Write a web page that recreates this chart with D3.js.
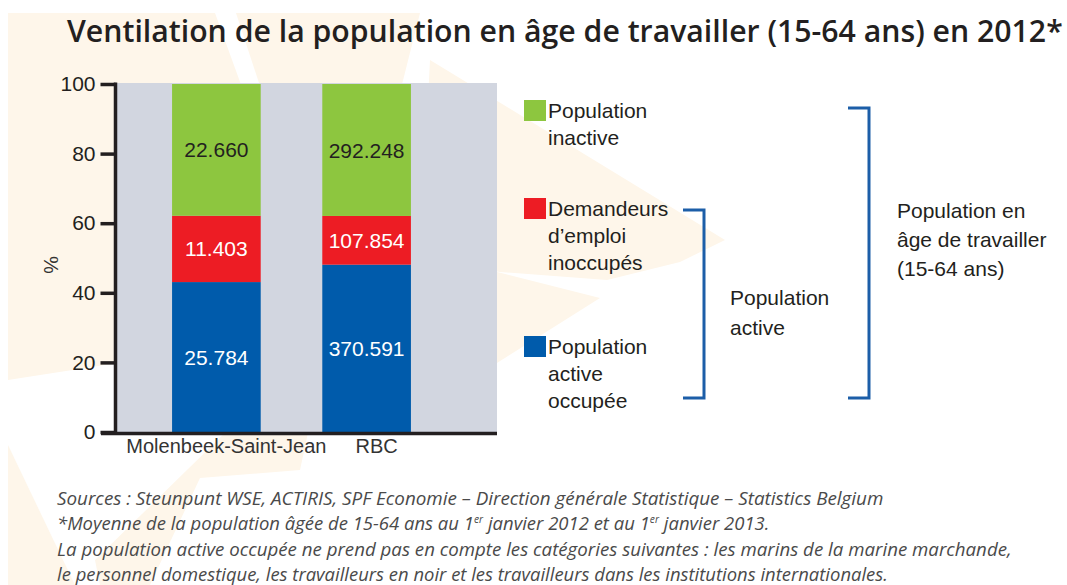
<!DOCTYPE html>
<html>
<head>
<meta charset="utf-8">
<script src="https://cdn.jsdelivr.net/npm/d3@7"></script>
<style>
  body { margin: 0; background: #fff; }
  svg { display: block; font-family: "Liberation Sans", Arial, sans-serif; }
</style>
</head>
<body>
<svg id="chart"></svg>
<script>
// ---- data ----
const categories = ['Molenbeek-Saint-Jean', 'RBC'];
const occupied = [25784, 370591];     // Population active occupée
const jobseekers = [11403, 107854];   // Demandeurs d'emploi inoccupés
const inactive = [22660, 292248];     // Population inactive
const seriesKeys = ['occupied', 'jobseekers', 'inactive'];
const seriesColors = ['#005bab', '#ed1c24', '#8dc63f'];
const labelColors = ['#ffffff', '#ffffff', '#231f20'];
const yTicks = [0, 20, 40, 60, 80, 100];

const legendLines = [
  ['Population', 'inactive'],
  ['Demandeurs', 'd\u2019emploi', 'inoccupés'],
  ['Population', 'active', 'occupée']
];
const legendColors = ['#8dc63f', '#ed1c24', '#005bab'];

const title = 'Ventilation de la population en âge de travailler (15-64 ans) en 2012*';
const footer = [
  'Sources : Steunpunt WSE, ACTIRIS, SPF Economie \u2013 Direction générale Statistique \u2013 Statistics Belgium',
  null, // line with superscripts, built below
  'La population active occupée ne prend pas en compte les catégories suivantes : les marins de la marine marchande,',
  'le personnel domestique, les travailleurs en noir et les travailleurs dans les institutions internationales.'
];

const width = 1067, height = 585;
const fmt = d3.formatLocale({decimal: ',', thousands: '.', grouping: [3]}).format(',');

const svg = d3.select('#chart').attr('width', width).attr('height', height);

// faint beige watermark shapes in the background
const beige = '#fef6ea';
const wm = svg.append('g');
[
  [[8, 13], [215, 13], [330, 330], [8, 380]],
  [[236, 13], [420, 13], [340, 330]],
  [[8, 445], [8, 585], [75, 585]],
  [[95, 560], [330, 330], [300, 470], [200, 478], [150, 585], [100, 585]],
  [[430, 60], [725, 240], [680, 262], [607, 280], [500, 272], [420, 260]],
  [[470, 265], [600, 298], [470, 380]]
].forEach(pts => wm.append('polygon').attr('points', pts.join(' ')).attr('fill', beige));

// ---- chart ----
const plot = {left: 117, right: 497, top: 84, bottom: 432};

const x = d3.scaleBand()
  .domain(categories)
  .range([127, 456])
  .paddingInner(0.41)
  .paddingOuter(0.3);

const y = d3.scaleLinear()
  .domain([0, 100])
  .range([plot.bottom, plot.top]);

const rows = categories.map((c, i) => {
  const total = occupied[i] + jobseekers[i] + inactive[i];
  return {
    cat: c,
    occupied: occupied[i] / total * 100,
    jobseekers: jobseekers[i] / total * 100,
    inactive: inactive[i] / total * 100,
    raw: {occupied: occupied[i], jobseekers: jobseekers[i], inactive: inactive[i]}
  };
});
const stacked = d3.stack().keys(seriesKeys)(rows);

// grey plot background
svg.append('rect')
  .attr('x', plot.left).attr('y', plot.top - 1)
  .attr('width', plot.right - plot.left).attr('height', plot.bottom - plot.top + 1)
  .attr('fill', '#d2d6e0');

const layers = svg.append('g').selectAll('g')
  .data(stacked)
  .join('g')
  .attr('fill', (_, i) => seriesColors[i]);

layers.selectAll('rect')
  .data(d => d)
  .join('rect')
  .attr('x', d => x(d.data.cat))
  .attr('width', x.bandwidth())
  .attr('y', d => y(d[1]))
  .attr('height', d => y(d[0]) - y(d[1]));

layers.each(function(layer, li) {
  d3.select(this).selectAll('text')
    .data(layer)
    .join('text')
    .attr('x', d => x(d.data.cat) + x.bandwidth() / 2)
    .attr('y', d => (y(d[0]) + y(d[1])) / 2)
    .attr('dy', '0.36em')
    .attr('text-anchor', 'middle')
    .attr('font-size', 21)
    .attr('fill', labelColors[li])
    .text(d => fmt(d.data.raw[layer.key]));
});

// y axis
const yAxis = svg.append('g')
  .attr('transform', `translate(${plot.left - 1.5},0)`)
  .call(d3.axisLeft(y).tickValues(yTicks).tickSize(15).tickPadding(5).tickSizeOuter(0));
yAxis.attr('font-family', null);
yAxis.select('.domain').remove();
yAxis.selectAll('.tick line').attr('stroke', '#231f20').attr('stroke-width', 3.5);
yAxis.selectAll('.tick text')
  .attr('font-size', 21).attr('fill', '#231f20');
svg.append('line')
  .attr('x1', plot.left - 1.5).attr('x2', plot.left - 1.5)
  .attr('y1', plot.top - 1.5).attr('y2', plot.bottom)
  .attr('stroke', '#231f20').attr('stroke-width', 3.5);

// x axis
svg.append('line')
  .attr('x1', 101).attr('x2', plot.right)
  .attr('y1', plot.bottom + 1.5).attr('y2', plot.bottom + 1.5)
  .attr('stroke', '#231f20').attr('stroke-width', 3.5);
svg.append('g').selectAll('text')
  .data(categories)
  .join('text')
  .attr('x', d => x(d) + x.bandwidth() / 2 + 10)
  .attr('y', 453)
  .attr('text-anchor', 'middle')
  .attr('font-size', 20)
  .attr('fill', '#333')
  .text(d => d);

svg.append('text')
  .attr('transform', 'translate(44,265) rotate(90)')
  .attr('text-anchor', 'middle')
  .attr('font-size', 20)
  .attr('fill', '#333')
  .text('%');

// ---- legend ----
const legendX = 524, legendTops = [100, 198, 336], lineH = 27;
const legend = svg.append('g');
legendLines.forEach((lines, i) => {
  legend.append('rect')
    .attr('x', legendX).attr('y', legendTops[i])
    .attr('width', 22).attr('height', 21)
    .attr('fill', legendColors[i]);
  const t = legend.append('text')
    .attr('font-size', 21).attr('fill', '#231f20');
  lines.forEach((l, j) => {
    t.append('tspan')
      .attr('x', legendX + 24)
      .attr('y', legendTops[i] + 18 + j * lineH)
      .text(l);
  });
});

// brackets
const bracketColor = '#1c5ea8';
const bracket = (x0, x1, y0, y1) => svg.append('path')
  .attr('d', `M${x0},${y0}H${x1}V${y1}H${x0}`)
  .attr('fill', 'none').attr('stroke', bracketColor).attr('stroke-width', 3);
bracket(683, 704, legendTops[1] + 12, legendTops[2] + 62);
bracket(848, 869, legendTops[0] + 8, legendTops[2] + 62);

const multi = (lines, x0, y0, lh) => {
  const t = svg.append('text').attr('font-size', 21).attr('fill', '#231f20');
  lines.forEach((l, j) => t.append('tspan').attr('x', x0).attr('y', y0 + j * lh).text(l));
};
multi(['Population', 'active'], 730, 305, 30);
multi(['Population en', 'âge de travailler', '(15-64 ans)'], 897, 218, 29);

// ---- title ----
const titleText = svg.append('text')
  .attr('x', 67).attr('y', 42)
  .style('font-family', '"Open Sans", sans-serif')
  .style('font-weight', 600)
  .attr('font-size', 25)
  .attr('fill', '#231f20')
  .text(title);
const tw = titleText.node().getComputedTextLength();
titleText.attr('font-size', 25 * 996 / tw);

// ---- footer ----
const footerTargets = [827, 713, 955, 831];
const footerBase = [505, 530, 556, 581];
footer.forEach((line, i) => {
  const t = svg.append('text')
    .style('font-family', '"Open Sans", sans-serif')
    .style('font-style', 'italic')
    .attr('font-size', 18)
    .attr('fill', '#4a4a4a');
  if (line === null) {
    t.append('tspan').text('*Moyenne de la population âgée de 15-64 ans au 1');
    t.append('tspan').attr('font-size', 10).attr('dy', -7).text('er');
    t.append('tspan').attr('dy', 7).text(' janvier 2012 et au 1');
    t.append('tspan').attr('font-size', 10).attr('dy', -7).text('er');
    t.append('tspan').attr('dy', 7).text(' janvier 2013.');
  } else {
    t.text(line);
  }
  const w = t.node().getComputedTextLength();
  t.attr('transform', `translate(57,${footerBase[i]}) scale(${footerTargets[i] / w},1)`);
});
</script>
</body>
</html>
